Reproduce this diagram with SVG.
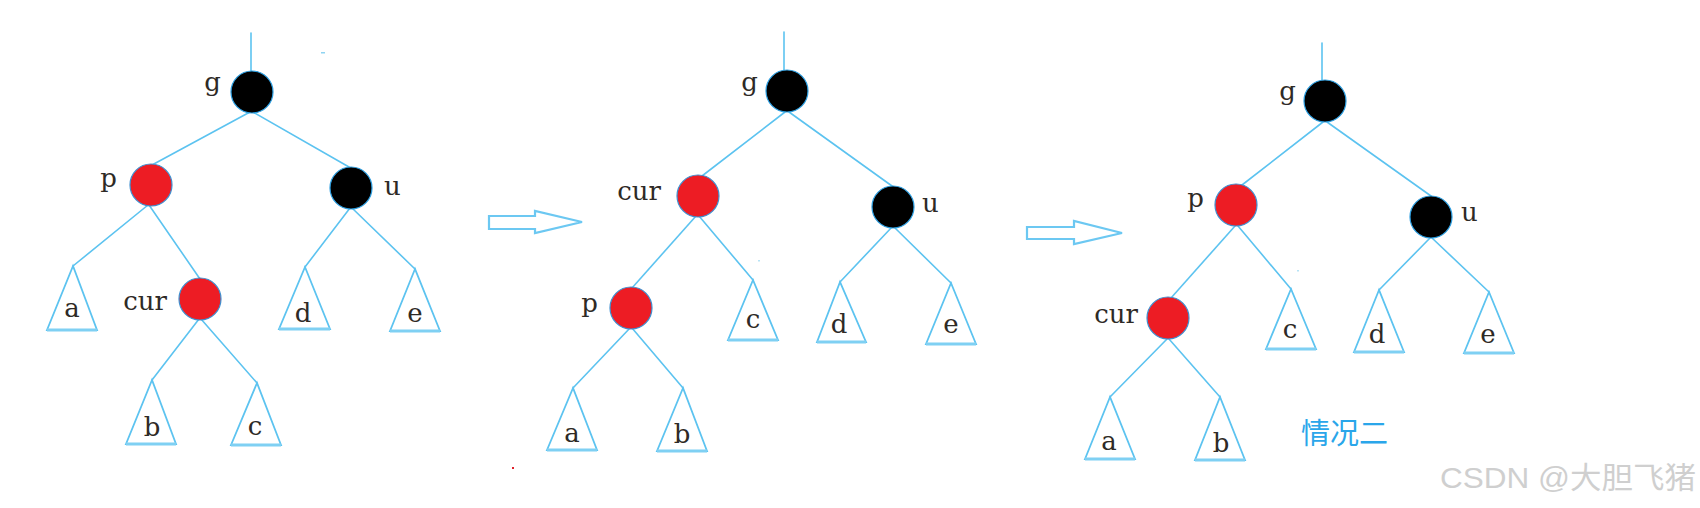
<svg xmlns="http://www.w3.org/2000/svg" width="1700" height="508" viewBox="0 0 1700 508">
<style>
.edge{stroke:#5cc3f0;stroke-width:1.6;fill:none;stroke-linecap:round}
.tri{stroke:#5cc3f0;stroke-width:1.8;fill:#fff;stroke-linejoin:miter}
.base{stroke:#7fd0f3;stroke-width:3;fill:none}
.red{fill:#ed1c24;stroke:#3d8fd0;stroke-width:1.2}
.blk{fill:#000;stroke:#2a9de0;stroke-width:1.2}
.lbl{font-family:"DejaVu Serif","Liberation Serif",serif;font-size:26px;fill:#2e2a26}
.mid{text-anchor:middle}
.end{text-anchor:end}
.arrow{fill:#fff;stroke:#6cc8f2;stroke-width:2.2;stroke-linejoin:miter}
</style>
<rect width="1700" height="508" fill="#fff"/>
<g id="connectors">
<line class="edge" x1="251" y1="33" x2="251" y2="72"/>
<line class="edge" x1="250" y1="112" x2="152" y2="165"/>
<line class="edge" x1="253" y1="112" x2="349" y2="167"/>
<line class="edge" x1="148" y1="205" x2="73" y2="266"/>
<line class="edge" x1="149" y1="205" x2="200" y2="279"/>
<line class="edge" x1="350" y1="208" x2="305" y2="267"/>
<line class="edge" x1="352" y1="208" x2="415" y2="269"/>
<line class="edge" x1="199" y1="319" x2="152" y2="380"/>
<line class="edge" x1="201" y1="319" x2="257" y2="383"/>
<line class="edge" x1="784" y1="32" x2="784" y2="70"/>
<line class="edge" x1="785" y1="112" x2="702" y2="176"/>
<line class="edge" x1="789" y1="112" x2="892" y2="186"/>
<line class="edge" x1="696" y1="216" x2="632" y2="288"/>
<line class="edge" x1="699" y1="216" x2="753" y2="280"/>
<line class="edge" x1="892" y1="227" x2="840" y2="282"/>
<line class="edge" x1="894" y1="227" x2="951" y2="283"/>
<line class="edge" x1="630" y1="328" x2="573" y2="388"/>
<line class="edge" x1="632" y1="328" x2="683" y2="388"/>
<line class="edge" x1="1322" y1="43" x2="1322" y2="80"/>
<line class="edge" x1="1323" y1="122" x2="1242" y2="185"/>
<line class="edge" x1="1327" y1="122" x2="1431" y2="196"/>
<line class="edge" x1="1235" y1="226" x2="1171" y2="298"/>
<line class="edge" x1="1238" y1="226" x2="1291" y2="289"/>
<line class="edge" x1="1430" y1="238" x2="1379" y2="290"/>
<line class="edge" x1="1432" y1="238" x2="1489" y2="292"/>
<line class="edge" x1="1167" y1="339" x2="1110" y2="397"/>
<line class="edge" x1="1169" y1="339" x2="1220" y2="397"/>
</g>
<g id="arrows">
<polygon class="arrow" points="489,216 535,216 535,211 582,222 535,233 535,229 489,229"/>
<polygon class="arrow" points="1027,227 1074,227 1074,221 1122,233 1074,244 1074,239 1027,239"/>
</g>
<g id="p1-g"><circle class="blk" cx="252" cy="92" r="21"/><text class="lbl end" x="221" y="91">g</text></g>
<g id="p1-p"><circle class="red" cx="151" cy="185" r="21"/><text class="lbl end" x="117" y="187">p</text></g>
<g id="p1-u"><circle class="blk" cx="351" cy="188" r="21"/><text class="lbl" x="384" y="195">u</text></g>
<g id="p1-cur"><circle class="red" cx="200" cy="299" r="21"/><text class="lbl end" x="167" y="310">cur</text></g>
<g id="p1-a"><polygon class="tri" points="73,266 47,330 97,330"/><line class="base" x1="47" y1="330" x2="97" y2="330"/><text class="lbl mid" x="72" y="317">a</text></g>
<g id="p1-d"><polygon class="tri" points="305,267 279,329 330,329"/><line class="base" x1="279" y1="329" x2="330" y2="329"/><text class="lbl mid" x="303" y="322">d</text></g>
<g id="p1-e"><polygon class="tri" points="415,269 390,331 440,331"/><line class="base" x1="390" y1="331" x2="440" y2="331"/><text class="lbl mid" x="415" y="322">e</text></g>
<g id="p1-b"><polygon class="tri" points="152,380 126,444 176,444"/><line class="base" x1="126" y1="444" x2="176" y2="444"/><text class="lbl mid" x="152" y="436">b</text></g>
<g id="p1-c"><polygon class="tri" points="257,383 231,445 281,445"/><line class="base" x1="231" y1="445" x2="281" y2="445"/><text class="lbl mid" x="255" y="435">c</text></g>
<g id="p2-g"><circle class="blk" cx="787" cy="91" r="21"/><text class="lbl end" x="758" y="91">g</text></g>
<g id="p2-cur"><circle class="red" cx="698" cy="196" r="21"/><text class="lbl end" x="661" y="200">cur</text></g>
<g id="p2-u"><circle class="blk" cx="893" cy="207" r="21"/><text class="lbl" x="922" y="212">u</text></g>
<g id="p2-p"><circle class="red" cx="631" cy="308" r="21"/><text class="lbl end" x="598" y="312">p</text></g>
<g id="p2-c"><polygon class="tri" points="753,280 728,340 778,340"/><line class="base" x1="728" y1="340" x2="778" y2="340"/><text class="lbl mid" x="753" y="328">c</text></g>
<g id="p2-d"><polygon class="tri" points="840,282 817,342 866,342"/><line class="base" x1="817" y1="342" x2="866" y2="342"/><text class="lbl mid" x="839" y="333">d</text></g>
<g id="p2-e"><polygon class="tri" points="951,283 926,344 976,344"/><line class="base" x1="926" y1="344" x2="976" y2="344"/><text class="lbl mid" x="951" y="333">e</text></g>
<g id="p2-a"><polygon class="tri" points="573,388 547,450 597,450"/><line class="base" x1="547" y1="450" x2="597" y2="450"/><text class="lbl mid" x="572" y="442">a</text></g>
<g id="p2-b"><polygon class="tri" points="683,388 657,451 707,451"/><line class="base" x1="657" y1="451" x2="707" y2="451"/><text class="lbl mid" x="682" y="443">b</text></g>
<g id="p3-g"><circle class="blk" cx="1325" cy="101" r="21"/><text class="lbl end" x="1296" y="100">g</text></g>
<g id="p3-p"><circle class="red" cx="1236" cy="205" r="21"/><text class="lbl end" x="1204" y="207">p</text></g>
<g id="p3-u"><circle class="blk" cx="1431" cy="217" r="21"/><text class="lbl" x="1461" y="221">u</text></g>
<g id="p3-cur"><circle class="red" cx="1168" cy="318" r="21"/><text class="lbl end" x="1138" y="323">cur</text></g>
<g id="p3-c"><polygon class="tri" points="1291,289 1266,349 1316,349"/><line class="base" x1="1266" y1="349" x2="1316" y2="349"/><text class="lbl mid" x="1290" y="338">c</text></g>
<g id="p3-d"><polygon class="tri" points="1379,290 1354,352 1404,352"/><line class="base" x1="1354" y1="352" x2="1404" y2="352"/><text class="lbl mid" x="1377" y="343">d</text></g>
<g id="p3-e"><polygon class="tri" points="1489,292 1464,353 1514,353"/><line class="base" x1="1464" y1="353" x2="1514" y2="353"/><text class="lbl mid" x="1488" y="343">e</text></g>
<g id="p3-a"><polygon class="tri" points="1110,397 1085,459 1135,459"/><line class="base" x1="1085" y1="459" x2="1135" y2="459"/><text class="lbl mid" x="1109" y="450">a</text></g>
<g id="p3-b"><polygon class="tri" points="1220,397 1195,460 1245,460"/><line class="base" x1="1195" y1="460" x2="1245" y2="460"/><text class="lbl mid" x="1221" y="452">b</text></g>
<g id="caption"><text x="1301" y="444" font-family="'Noto Sans CJK SC',sans-serif" font-size="29" fill="#2aa6ea">情况二</text></g>
<g id="marks">
<rect x="321" y="52" width="4" height="1.5" fill="#8fd4f2"/>
<rect x="512" y="467" width="2" height="2" fill="#e0202a"/>
<rect x="758" y="260" width="2" height="1.5" fill="#b7e3f6"/>
<rect x="1297" y="270" width="2" height="1.5" fill="#b7e3f6"/>
</g>
<g id="watermark"><text x="1440" y="488" font-family="'Liberation Sans','Noto Sans CJK SC',sans-serif" font-size="30" fill="#cfcfcf" textLength="256" lengthAdjust="spacingAndGlyphs">CSDN @大胆飞猪</text></g>
</svg>
